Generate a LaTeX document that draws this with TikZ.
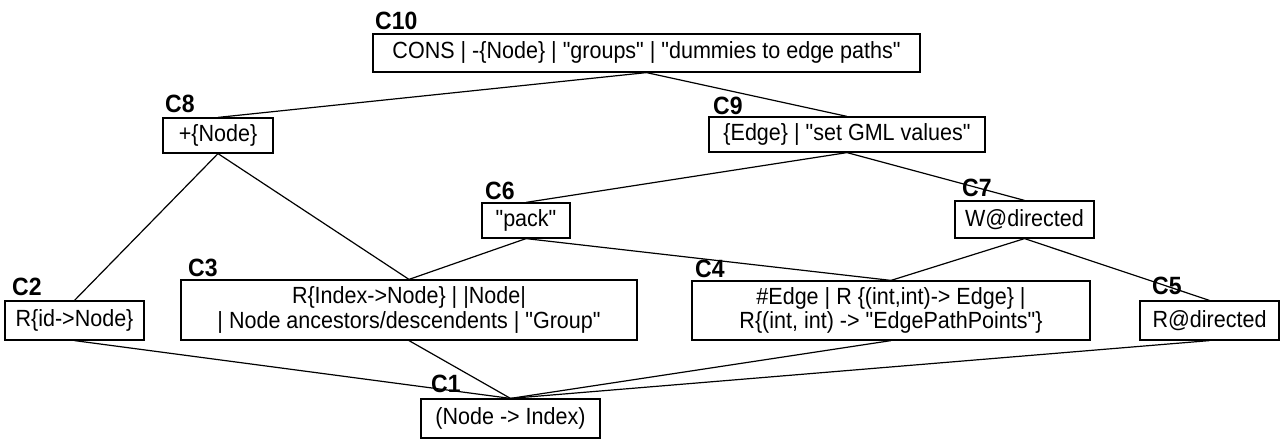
\documentclass[tikz,border=0pt]{standalone}
\usepackage{fontspec}
\setmainfont{Liberation Sans}[Ligatures=TeXOff, FakeStretch=0.92]
\begin{document}
\begin{tikzpicture}[x=1pt,y=-1pt,
  box/.style={draw, line width=1.2pt, inner sep=0pt, align=center,
    font=\fontsize{23.4}{24.5}\selectfont},
  tag/.style={font=\fontsize{25}{26}\selectfont\bfseries, anchor=base west, inner sep=0pt},
  link/.style={line width=1.2pt}]
\useasboundingbox (0,0) rectangle (1285,439);

% concept boxes
\node[box, minimum width=547pt, minimum height=38pt] (c10) at (646.5,53)
  {CONS | -\{Node\} | "groups" | "dummies to edge paths"};
\node[box, minimum width=110pt, minimum height=35pt] (c8) at (218,135.5) {+\{Node\}};
\node[box, minimum width=276pt, minimum height=35pt] (c9) at (847,134.5)
  {\{Edge\} | "set GML values"};
\node[box, minimum width=88pt, minimum height=35pt] (c6) at (526,220.5) {"pack"};
\node[box, minimum width=139pt, minimum height=37pt] (c7) at (1024.5,219.5) {W@directed};
\node[box, minimum width=139pt, minimum height=39pt] (c2) at (74.5,320.5) {R\{id->Node\}};
\node[box, minimum width=456pt, minimum height=60pt] (c3) at (409,310)
  {R\{Index->Node\} | |Node|\\| Node ancestors/descendents | "Group"};
\node[box, minimum width=398pt, minimum height=59pt] (c4) at (891,310.5)
  {\#Edge | R \{(int,int)-> Edge\} |\\R\{(int, int) -> "EdgePathPoints"\}};
\node[box, minimum width=139pt, minimum height=39pt] (c5) at (1209.5,320.5) {R@directed};
\node[box, minimum width=179pt, minimum height=39pt] (c1) at (510.5,418.5) {(Node -> Index)};

% concept names
\node[tag] (t10) at (375,29) {C10};
\node[tag] (t8) at (165,112) {C8};
\node[tag] (t9) at (713,114) {C9};
\node[tag] (t6) at (485,199) {C6};
\node[tag] (t7) at (962,196) {C7};
\node[tag] (t2) at (12,295) {C2};
\node[tag] (t3) at (188,276) {C3};
\node[tag] (t4) at (695,277) {C4};
\node[tag] (t5) at (1152,294) {C5};
\node[tag] (t1) at (431,392) {C1};

% lattice edges
\draw[link] (c10.south) -- (c8.north);
\draw[link] (c10.south) -- (c9.north);
\draw[link] (c8.south) -- (c2.north);
\draw[link] (c8.south) -- (c3.north);
\draw[link] (c9.south) -- (c6.north);
\draw[link] (c9.south) -- (c7.north);
\draw[link] (c6.south) -- (c3.north);
\draw[link] (c6.south) -- (c4.north);
\draw[link] (c7.south) -- (c4.north);
\draw[link] (c7.south) -- (c5.north);
\draw[link] (c2.south) -- (c1.north);
\draw[link] (c3.south) -- (c1.north);
\draw[link] (c4.south) -- (c1.north);
\draw[link] (c5.south) -- (c1.north);
\end{tikzpicture}
\end{document}
